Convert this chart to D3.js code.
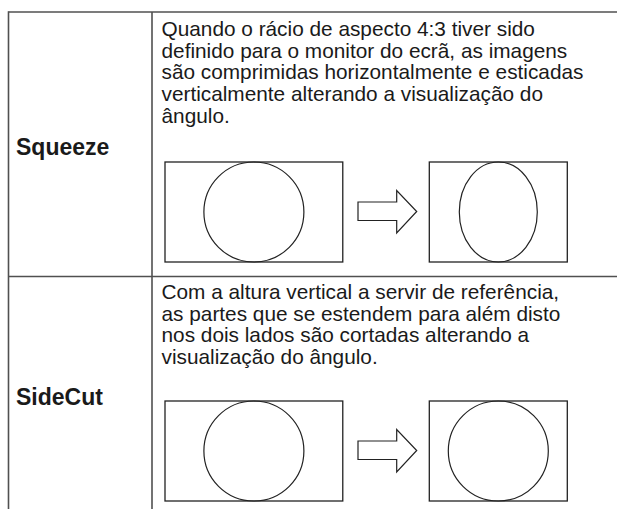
<!DOCTYPE html>
<html>
<head>
<meta charset="utf-8">
<script src="https://cdn.jsdelivr.net/npm/d3@7"></script>
<style>
  html, body { margin: 0; padding: 0; background: #fff; }
  svg { display: block; }
</style>
</head>
<body>
<svg id="chart" width="617" height="509"></svg>
<script>
// ---- data ----
const modes = ["Squeeze", "SideCut"];
const descriptions = [
  ["Quando o rácio de aspecto 4:3 tiver sido",
   "definido para o monitor do ecrã, as imagens",
   "são comprimidas horizontalmente e esticadas",
   "verticalmente alterando a visualização do",
   "ângulo."],
  ["Com a altura vertical a servir de referência,",
   "as partes que se estendem para além disto",
   "nos dois lados são cortadas alterando a",
   "visualização do ângulo."]
];
const sourceAspect = [16 / 9, 16 / 9];   // before
const targetAspect = [1.38, 1.38];      // after (4:3 monitor frame)
const shapeWidthRatio = [0.78, 1.0];    // circle squeezed (Squeeze) or kept round (SideCut)

// ---- layout ----
const svg = d3.select("#chart");
const W = 617, H = 509;
const tableLeft = 8.5, colX = 152, tableTop = 12, rowDivY = 276.5;
const firstBaseline = [36, 299];
const lineH = 21.7;
const labelBaseline = [155, 405];
const boxTops = [162, 401];
const boxH = 100;
const srcX = 165, dstX = 429.3;
const textX = 161.5;

const y = d3.scaleLinear().domain([0, 1]).range([0, boxH]);

const lineColor = "#505050";
const g = svg.append("g");

// table lines
g.append("line").attr("x1", tableLeft).attr("x2", W).attr("y1", tableTop).attr("y2", tableTop)
  .attr("stroke", lineColor).attr("stroke-width", 1.6);
g.append("line").attr("x1", tableLeft).attr("x2", W).attr("y1", rowDivY).attr("y2", rowDivY)
  .attr("stroke", lineColor).attr("stroke-width", 1.6);
g.append("line").attr("x1", tableLeft).attr("x2", tableLeft).attr("y1", tableTop - 0.8).attr("y2", H)
  .attr("stroke", lineColor).attr("stroke-width", 1.6);
g.append("line").attr("x1", colX).attr("x2", colX).attr("y1", tableTop).attr("y2", H)
  .attr("stroke", lineColor).attr("stroke-width", 1.6);

const font = "'Liberation Sans', Arial, Helvetica, sans-serif";

modes.forEach((m, i) => {
  // label
  g.append("text").attr("x", 16).attr("y", labelBaseline[i])
    .attr("font-family", font).attr("font-weight", "bold").attr("font-size", 23)
    .attr("fill", "#1a1a1a").text(m);

  // description
  const t = g.append("text").attr("font-family", font).attr("font-size", 20.8).attr("fill", "#1a1a1a");
  descriptions[i].forEach((line, k) => {
    t.append("tspan").attr("x", textX).attr("y", firstBaseline[i] + k * lineH).text(line);
  });

  const top = boxTops[i];
  const sw = y(1) * sourceAspect[i];
  const dw = y(1) * targetAspect[i];

  // source frame + circle
  g.append("rect").attr("x", srcX).attr("y", top).attr("width", sw).attr("height", y(1))
    .attr("fill", "none").attr("stroke", "#222").attr("stroke-width", 1.3);
  g.append("ellipse").attr("cx", srcX + sw / 2).attr("cy", top + y(0.5))
    .attr("rx", y(0.5)).attr("ry", y(0.5))
    .attr("fill", "none").attr("stroke", "#222").attr("stroke-width", 1.2);

  // arrow
  const ax0 = 358, axb = 396.7, axt = 416.7;
  const pts = [
    [ax0, top + y(0.40)], [axb, top + y(0.40)], [axb, top + y(0.285)],
    [axt, top + y(0.495)],
    [axb, top + y(0.71)], [axb, top + y(0.585)], [ax0, top + y(0.585)]
  ];
  g.append("path").attr("d", d3.line()(pts) + "Z")
    .attr("fill", "none").attr("stroke", "#222").attr("stroke-width", 1.2);

  // destination frame + shape
  g.append("rect").attr("x", dstX).attr("y", top).attr("width", dw).attr("height", y(1))
    .attr("fill", "none").attr("stroke", "#222").attr("stroke-width", 1.3);
  g.append("ellipse").attr("cx", dstX + dw / 2).attr("cy", top + y(0.5))
    .attr("rx", y(0.5) * shapeWidthRatio[i]).attr("ry", y(0.5))
    .attr("fill", "none").attr("stroke", "#222").attr("stroke-width", 1.2);
});
</script>
</body>
</html>
